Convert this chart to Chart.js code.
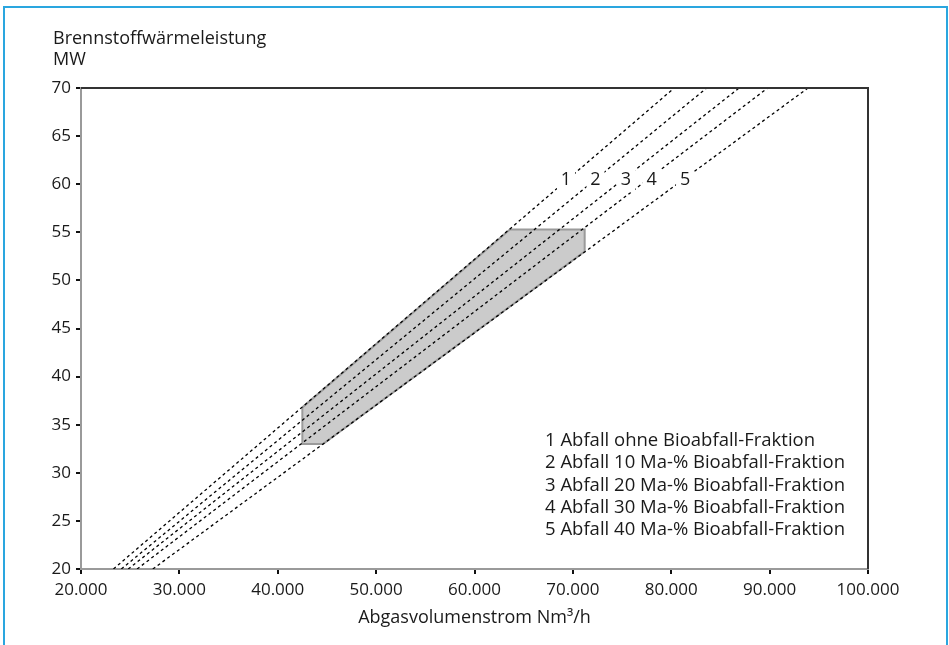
<!DOCTYPE html>
<html>
<head>
<meta charset="utf-8">
<script src="https://cdn.jsdelivr.net/npm/chart.js@4"></script>
<style>
  body { margin: 0; background: #fff; }
  #wrap { position: relative; width: 949px; height: 645px; overflow: hidden; }
  #frame { position: absolute; left: 3px; top: 6px; width: 941px; height: 700px; border: 2px solid #2aa6df; }
  canvas { position: absolute; left: 0; top: 0; }
</style>
</head>
<body>
<div id="wrap">
  <div id="frame"></div>
  <canvas id="chart" width="949" height="645"></canvas>
</div>
<script>
// lines 1..5: flow (Nm3/h) at 20 MW and at 70 MW
const lineNames = ["1", "2", "3", "4", "5"];
const lineStartFlow = [23300, 24100, 24800, 25700, 27300];
const lineStartMW = [20, 20, 20, 20, 20];
const lineEndFlow = [80300, 83600, 86900, 89800, 93900];
const lineEndMW = [70, 70, 70, 70, 70];

// number labels on the lines
const labelFlow = [69300, 72300, 75400, 78000, 81400];
const labelMW = [60.4, 60.4, 60.4, 60.4, 60.4];

// grey operating range
const areaFlow = [42500, 42500, 44600, 71200, 71200, 63600, 42500];
const areaMW = [36.8, 33, 33, 53, 55.3, 55.3, 36.8];

const legendLines = [
  "1 Abfall ohne Bioabfall-Fraktion",
  "2 Abfall 10 Ma-% Bioabfall-Fraktion",
  "3 Abfall 20 Ma-% Bioabfall-Fraktion",
  "4 Abfall 30 Ma-% Bioabfall-Fraktion",
  "5 Abfall 40 Ma-% Bioabfall-Fraktion"
];

const yTitle = ["Brennstoffwärmeleistung", "MW"];
const xTitle = "Abgasvolumenstrom Nm³/h";

const FONT = "'Open Sans', 'Noto Sans', sans-serif";
const TXT = "#1a1a1a";

let datasets = [];
lineNames.forEach((n, i) => {
  datasets.push({
    label: n,
    data: [
      { x: lineStartFlow[i], y: lineStartMW[i] },
      { x: lineEndFlow[i], y: lineEndMW[i] }
    ],
    borderColor: "#000",
    borderWidth: 1.3,
    borderDash: [3, 3],
    pointRadius: 0,
    fill: false,
    order: 1
  });
});
datasets.push({
  label: "area",
  data: areaFlow.map((f, i) => ({ x: f, y: areaMW[i] })),
  borderColor: "#9a9a9a",
  borderWidth: 2,
  backgroundColor: "#cbcbcb",
  pointRadius: 0,
  fill: "shape",
  order: 5
});

const decor = {
  id: "decor",
  afterDatasetsDraw(chart) {
    const ctx = chart.ctx;
    const xs = chart.scales.x, ys = chart.scales.y;
    ctx.save();
    ctx.font = "18px " + FONT;
    ctx.textAlign = "center";
    ctx.textBaseline = "middle";
    labelFlow.forEach((f, i) => {
      const px = xs.getPixelForValue(f), py = ys.getPixelForValue(labelMW[i]);
      ctx.fillStyle = "#fff";
      ctx.fillRect(px - 9, py - 12, 18, 24);
      ctx.fillStyle = TXT;
      ctx.fillText(lineNames[i], px, py);
    });
    ctx.restore();
  },
  afterDraw(chart) {
    const ctx = chart.ctx;
    const a = chart.chartArea;
    ctx.save();
    // top and right frame
    ctx.strokeStyle = "#333";
    ctx.lineWidth = 2;
    ctx.beginPath();
    ctx.moveTo(a.left, a.top);
    ctx.lineTo(a.right, a.top);
    ctx.lineTo(a.right, a.bottom);
    ctx.stroke();

    ctx.fillStyle = TXT;
    ctx.font = "18px " + FONT;
    ctx.textAlign = "left";
    ctx.textBaseline = "alphabetic";
    ctx.fillText(yTitle[0], 53, 44);
    ctx.fillText(yTitle[1], 53, 65);

    ctx.font = "18.5px " + FONT;
    legendLines.forEach((t, i) => {
      ctx.fillText(t, a.left + 464, 446 + i * 22.3);
    });

    ctx.font = "18px " + FONT;
    ctx.textAlign = "center";
    ctx.fillText(xTitle, (a.left + a.right) / 2, 623);
    ctx.restore();
  }
};

new Chart(document.getElementById("chart"), {
  type: "line",
  data: { datasets: datasets },
  options: {
    responsive: false,
    devicePixelRatio: 1,
    animation: false,
    layout: { padding: { left: 0, top: 88, right: 81, bottom: 0 } },
    plugins: { legend: { display: false }, tooltip: { enabled: false } },
    scales: {
      x: {
        type: "linear",
        min: 20000,
        max: 100000,
        afterFit: (s) => { s.height = 76; },
        ticks: {
          stepSize: 10000,
          color: TXT,
          font: { family: FONT, size: 17 },
          padding: 6,
          maxRotation: 0,
          callback: (v) => (v / 1000) + ".000"
        },
        grid: { drawOnChartArea: false, drawTicks: true, tickLength: 5, color: "#111", lineWidth: 2 },
        border: { color: "#9a9a9a", width: 2 }
      },
      y: {
        type: "linear",
        min: 20,
        max: 70,
        afterFit: (s) => { s.width = 81; },
        ticks: {
          stepSize: 5,
          color: TXT,
          font: { family: FONT, size: 17 },
          padding: 5
        },
        grid: { drawOnChartArea: false, drawTicks: true, tickLength: 5, color: "#111", lineWidth: 2 },
        border: { color: "#9a9a9a", width: 2 }
      }
    }
  },
  plugins: [decor]
});
</script>
</body>
</html>
